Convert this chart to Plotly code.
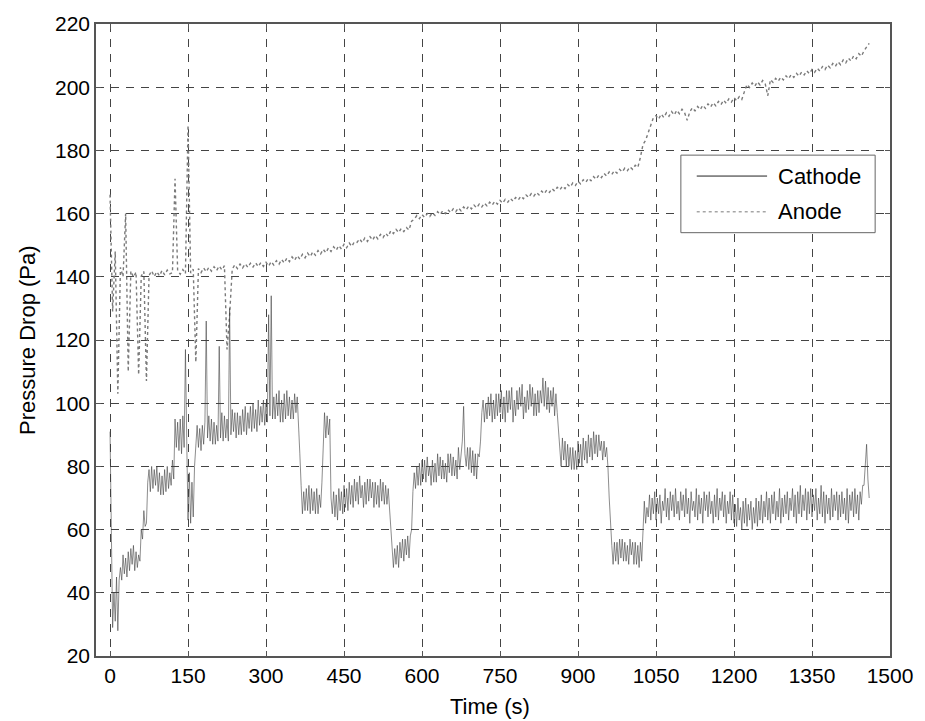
import plotly.graph_objects as go

# Anode pressure drop (Pa), one row per 50 s (5 s sampling)
anode_pa = [
    166, 129, 148, 103, 143, 140, 160, 110, 141.8, 139.9,
    141.5, 109, 140.2, 141.7, 107, 140.4, 141.9, 140.1, 141.6, 140.3,
    142.0, 140.6, 142.1, 140.9, 141.3, 171, 142.0, 140.8, 142.3, 141.0,
    188, 141.2, 142.4, 113, 142.6, 141.3, 142.8, 141.6, 143.0, 141.8,
    143.2, 142.0, 143.4, 142.2, 143.5, 117, 128, 142.4, 143.8, 142.6,
    144.0, 142.8, 144.1, 143.0, 144.3, 143.1, 144.4, 143.2, 144.5, 143.3,
    144.6, 143.4, 144.8, 143.7, 145.1, 144.0, 145.5, 144.4, 145.9, 144.8,
    146.3, 145.2, 146.7, 145.6, 147.1, 146.0, 147.5, 146.4, 147.9, 146.8,
    148.3, 147.2, 148.7, 147.6, 149.1, 148.0, 149.5, 148.4, 149.9, 148.8,
    150.3, 149.2, 150.7, 149.6, 151.1, 150.9, 152.0, 150.8, 152.3, 151.2,
    152.7, 151.6, 153.1, 152.0, 153.4, 152.4, 153.8, 152.8, 154.6, 153.7,
    155.0, 154.0, 155.3, 154.3, 155.6, 154.8, 157.6, 158.2, 159.4, 158.4,
    159.7, 158.8, 160.0, 159.1, 160.3, 159.4, 160.6, 159.7, 160.9, 160.0,
    161.2, 160.3, 161.5, 160.6, 161.8, 160.9, 162.1, 161.2, 162.4, 161.5,
    162.7, 161.8, 163.0, 162.1, 163.3, 162.4, 163.6, 162.7, 163.9, 163.0,
    164.2, 163.3, 164.5, 163.6, 164.8, 163.9, 165.1, 164.3, 165.5, 164.7,
    165.9, 165.1, 166.3, 165.5, 166.7, 165.9, 167.1, 166.3, 167.5, 166.7,
    167.9, 167.1, 168.3, 167.5, 168.7, 167.9, 169.2, 168.4, 169.7, 168.9,
    170.2, 169.4, 170.7, 169.9, 171.2, 170.4, 171.7, 170.9, 172.2, 171.4,
    172.7, 171.9, 173.2, 172.4, 173.6, 172.8, 174.0, 173.2, 174.4, 173.6,
    174.8, 174.0, 175.3, 174.6, 177.8, 181.9, 183.2, 185.6, 187.9, 190.4,
    191.0, 189.9, 191.5, 190.4, 191.9, 190.8, 192.3, 191.2, 192.7, 191.6,
    193.0, 191.9, 189.5, 192.2, 193.5, 192.5, 193.9, 192.9, 194.3, 193.3,
    194.7, 193.7, 195.1, 194.1, 195.5, 194.5, 195.9, 194.9, 196.3, 195.3,
    196.7, 195.7, 197.0, 196.1, 198.6, 200.9, 199.9, 201.3, 200.3, 201.7,
    200.7, 202.1, 201.1, 197.3, 202.4, 201.5, 202.8, 201.9, 203.2, 202.3,
    203.6, 202.7, 204.0, 203.1, 204.4, 203.5, 204.8, 203.9, 205.2, 204.3,
    205.6, 204.7, 206.0, 205.1, 206.5, 205.6, 207.0, 206.1, 207.5, 206.6,
    208.0, 207.1, 208.6, 207.7, 209.2, 208.3, 209.9, 209.0, 210.6, 209.8,
    211.5, 212.8, 213.9,
]

# Cathode pressure drop (Pa), one row per 50 s (2.5 s sampling)
cathode_pa = [
    91, 62, 29, 40, 31, 45, 28, 44, 48, 44, 52, 46, 51, 45, 53, 47, 54, 49, 55, 47,
    53, 48, 52, 50, 60, 57, 66, 61, 62, 75, 79, 72, 80, 73, 79, 74, 80, 72, 78, 71,
    77, 71, 79, 72, 80, 73, 78, 74, 82, 76, 95, 86, 94, 85, 95, 84, 96, 86, 117, 88,
    63, 78, 62, 75, 64, 80, 88, 93, 86, 92, 85, 93, 87, 94, 126, 89, 96, 88, 95, 87,
    94, 87, 93, 88, 118, 89, 97, 88, 96, 89, 95, 88, 130, 90, 98, 91, 97, 89, 97, 90,
    96, 90, 98, 91, 99, 90, 97, 92, 99, 91, 100, 92, 98, 91, 101, 93, 99, 94, 101, 93,
    100, 94, 128, 96, 134, 95, 102, 95, 103, 96, 104, 94, 101, 94, 103, 95, 104, 96, 102, 95,
    101, 95, 103, 97, 102, 95, 84, 74, 65, 72, 66, 73, 66, 74, 65, 73, 66, 72, 65, 73,
    65, 71, 67, 75, 88, 97, 89, 96, 90, 95, 70, 65, 72, 64, 71, 63, 73, 66, 72, 65,
    74, 67, 73, 66, 75, 68, 74, 67, 76, 69, 75, 68, 77, 70, 74, 67, 75, 68, 76, 69,
    76, 70, 75, 67, 75, 68, 74, 67, 76, 69, 75, 68, 74, 68, 73, 66, 62, 56, 48, 54,
    49, 55, 48, 56, 51, 57, 50, 57, 52, 58, 51, 58, 60, 72, 78, 73, 80, 74, 81, 74,
    82, 76, 82, 75, 83, 77, 80, 74, 82, 75, 81, 75, 84, 77, 83, 76, 82, 76, 81, 75,
    84, 78, 84, 77, 83, 77, 82, 76, 86, 79, 85, 88, 99, 84, 80, 86, 79, 86, 78, 85,
    77, 84, 76, 84, 83, 88, 97, 101, 94, 100, 95, 102, 96, 103, 94, 101, 95, 103, 96, 103,
    97, 104, 95, 102, 94, 104, 97, 104, 98, 105, 94, 101, 96, 104, 98, 105, 99, 106, 95, 102,
    97, 104, 98, 106, 99, 105, 96, 103, 96, 104, 97, 104, 100, 108, 99, 107, 98, 105, 97, 104,
    99, 105, 96, 103, 97, 92, 85, 80, 89, 82, 88, 80, 87, 80, 86, 79, 86, 79, 85, 79,
    88, 81, 87, 80, 89, 82, 88, 81, 90, 83, 89, 82, 91, 84, 90, 83, 90, 85, 88, 82,
    88, 83, 86, 80, 70, 60, 55, 49, 56, 50, 56, 49, 57, 51, 57, 50, 56, 50, 55, 49,
    57, 52, 56, 49, 56, 49, 55, 48, 56, 50, 62, 69, 62, 67, 64, 71, 63, 70, 65, 72,
    63, 70, 65, 71, 62, 69, 66, 73, 64, 70, 63, 72, 66, 71, 64, 73, 65, 69, 63, 72,
    66, 71, 64, 73, 65, 70, 62, 72, 66, 69, 64, 73, 63, 71, 65, 70, 62, 72, 66, 71,
    64, 72, 65, 69, 62, 71, 64, 73, 63, 70, 66, 72, 64, 71, 62, 69, 65, 72, 63, 71,
    62, 68, 61, 70, 63, 67, 60, 69, 62, 70, 61, 68, 63, 69, 60, 67, 62, 70, 61, 69,
    63, 71, 62, 69, 64, 72, 63, 70, 62, 71, 65, 72, 63, 69, 64, 73, 62, 70, 64, 71,
    65, 72, 63, 70, 66, 73, 64, 71, 62, 72, 65, 74, 64, 71, 66, 73, 63, 72, 65, 73,
    64, 71, 66, 73, 63, 70, 65, 74, 64, 72, 62, 71, 65, 70, 63, 73, 64, 71, 66, 72,
    63, 71, 64, 72, 65, 70, 63, 73, 62, 71, 66, 72, 64, 73, 65, 71, 63, 72, 68, 74,
    74, 80, 87, 76, 70,
]

# Sampling grids (s)
anode_time_s = [i * 5 for i in range(len(anode_pa))]
cathode_time_s = [i * 2.5 for i in range(len(cathode_pa))]

x_ticks = list(range(0, 1501, 150))
y_ticks = list(range(20, 221, 20))

series_names = ["Cathode", "Anode"]
FONT = "Liberation Sans, Arial, sans-serif"
ANODE_COLOR = "#7a7a7a"
CATHODE_COLOR = "#404040"

fig = go.Figure()
fig.add_trace(go.Scatter(
    x=anode_time_s, y=anode_pa, mode="lines", name=series_names[1],
    line=dict(color=ANODE_COLOR, width=1.4, dash="dot"), showlegend=False,
))
fig.add_trace(go.Scatter(
    x=cathode_time_s, y=cathode_pa, mode="lines", name=series_names[0],
    line=dict(color=CATHODE_COLOR, width=0.6), showlegend=False,
))

axis_common = dict(
    showline=True, mirror="ticks", linecolor="#555555", linewidth=1.5,
    ticks="inside", ticklen=5, tickcolor="#555555",
    showgrid=True, gridcolor="#444444", gridwidth=1, griddash="8px,7px",
    zeroline=False, tickfont=dict(family=FONT, size=21, color="black"),
)

fig.update_xaxes(range=[-27, 1500], tickvals=x_ticks, **axis_common)
fig.update_yaxes(range=[20, 220], tickvals=y_ticks, **axis_common)

# Legend box drawn in paper coordinates
lx0, lx1 = 0.7366, 0.9813
ly0, ly1 = 0.6698, 0.7925
shapes = [
    dict(type="rect", xref="paper", yref="paper", x0=lx0, x1=lx1, y0=ly0, y1=ly1,
         line=dict(color="#666666", width=1), fillcolor="white", layer="above"),
    dict(type="line", xref="paper", yref="paper", x0=0.7566, x1=0.8452,
         y0=0.7594, y1=0.7594, line=dict(color="#222222", width=1), layer="above"),
    dict(type="line", xref="paper", yref="paper", x0=0.7566, x1=0.8452,
         y0=0.7028, y1=0.7028, line=dict(color=ANODE_COLOR, width=1, dash="dot"),
         layer="above"),
]

annotations = [
    dict(text=series_names[0], xref="paper", yref="paper", x=0.8564, y=0.7594,
         xanchor="left", yanchor="middle", showarrow=False,
         font=dict(family=FONT, size=22, color="black")),
    dict(text=series_names[1], xref="paper", yref="paper", x=0.8564, y=0.7028,
         xanchor="left", yanchor="middle", showarrow=False,
         font=dict(family=FONT, size=22, color="black")),
    dict(text="Time (s)", xref="paper", yref="paper", x=0.496, y=-0.0795,
         xanchor="center", yanchor="middle", showarrow=False,
         font=dict(family=FONT, size=22, color="black")),
    dict(text="Pressure Drop (Pa)", xref="paper", yref="paper", x=-0.087, y=0.5,
         xanchor="center", yanchor="middle", showarrow=False, textangle=-90,
         font=dict(family=FONT, size=22, color="black")),
]

fig.update_layout(
    width=925, height=721,
    margin=dict(l=96, r=28, t=20, b=65),
    paper_bgcolor="white", plot_bgcolor="white",
    shapes=shapes, annotations=annotations, showlegend=False,
)

fig.write_html("out.html")
